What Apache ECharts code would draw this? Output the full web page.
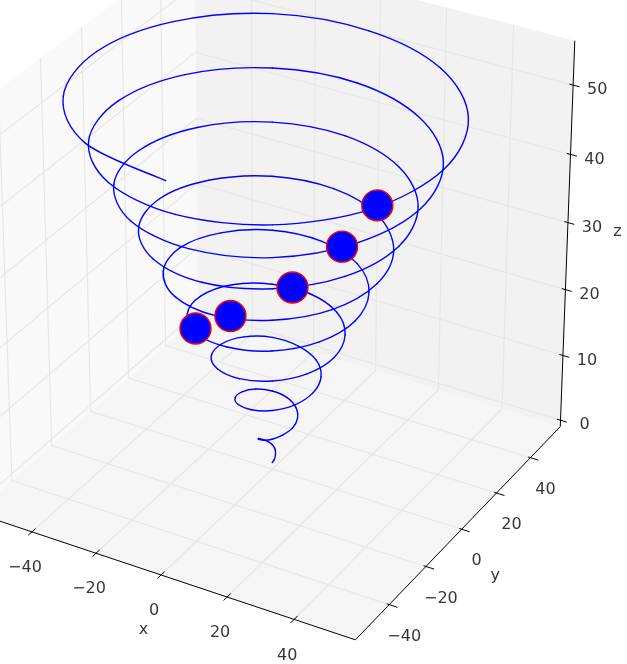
<!DOCTYPE html>
<html>
<head>
<meta charset="utf-8">
<title>3D spiral</title>
<style>
  html, body { margin: 0; padding: 0; background: #fff; }
  #chart { width: 627px; height: 664px; }
</style>
<script src="https://cdn.jsdelivr.net/npm/echarts@6/dist/echarts.min.js"></script>
</head>
<body>
<div id="chart"></div>
<script>
// values
const spiralX = [0, 0.5, 0.5, 0, -1.0, -2.3, -3.1, -3.2, -2.1, 0, 2.6, 5.0,
  6.3, 5.9, 3.7, 0, -4.2, -7.7, -9.4, -8.6, -5.2, 0, 5.8, 10.4,
  12.6, 11.3, 6.8, 0, -7.3, -13.2, -15.7, -14.1, -8.4, 0, 8.9, 15.9,
  18.9, 16.8, 10.0, 0, -10.5, -18.6, -22.0, -19.5, -11.5, 0, 12.0, 21.3,
  25.1, 22.2, 13.1, 0, -13.6, -24.0, -28.3, -24.9, -14.7, 0, 15.2, 26.8,
  31.4, 27.7, 16.2, 0, -16.8, -29.5, -34.6, -30.4, -17.8, 0, 18.3, 32.2,
  37.7, 33.1, 19.4, 0, -19.9, -34.9, -40.8, -35.8, -20.9, 0, 21.5, 37.6,
  44.0, 38.6, 22.5, 0, -23.0, -40.4, -47.1, -41.3, -24.1, 0, 24.6, 43.1,
  50.3, 44.0, 25.7, 0, -26.2, -45.8, -53.4, -46.7, -27.2, 1.2];
const spiralY = [0, 0.3, 0.9, 1.6, 1.8, 1.3, 0, -1.8, -3.6, -4.7, -4.5, -2.9,
  0, 3.4, 6.4, 7.9, 7.3, 4.5, 0, -5.0, -9.1, -11.0, -10.0, -6.0,
  0, 6.6, 11.8, 14.1, 12.7, 7.6, 0, -8.1, -14.5, -17.3, -15.4, -9.2,
  0, 9.7, 17.2, 20.4, 18.1, 10.7, 0, -11.3, -20.0, -23.6, -20.9, -12.3,
  0, 12.8, 22.7, 26.7, 23.6, 13.9, 0, -14.4, -25.4, -29.9, -26.3, -15.5,
  0, 16.0, 28.1, 33.0, 29.0, 17.0, 0, -17.5, -30.8, -36.1, -31.7, -18.6,
  0, 19.1, 33.6, 39.3, 34.5, 20.2, 0, -20.7, -36.3, -42.4, -37.2, -21.7,
  0, 22.3, 39.0, 45.6, 39.9, 23.3, 0, -23.8, -41.7, -48.7, -42.6, -24.9,
  0, 25.4, 44.4, 51.8, 45.4, 26.4, 0, -27.0, -47.2, -55.0];
const spiralZ = [0, 0.5, 1.0, 1.6, 2.1, 2.6, 3.1, 3.7, 4.2, 4.7, 5.2, 5.8,
  6.3, 6.8, 7.3, 7.9, 8.4, 8.9, 9.4, 9.9, 10.5, 11.0, 11.5, 12.0,
  12.6, 13.1, 13.6, 14.1, 14.7, 15.2, 15.7, 16.2, 16.8, 17.3, 17.8, 18.3,
  18.8, 19.4, 19.9, 20.4, 20.9, 21.5, 22.0, 22.5, 23.0, 23.6, 24.1, 24.6,
  25.1, 25.7, 26.2, 26.7, 27.2, 27.7, 28.3, 28.8, 29.3, 29.8, 30.4, 30.9,
  31.4, 31.9, 32.5, 33.0, 33.5, 34.0, 34.6, 35.1, 35.6, 36.1, 36.7, 37.2,
  37.7, 38.2, 38.7, 39.3, 39.8, 40.3, 40.8, 41.4, 41.9, 42.4, 42.9, 43.5,
  44.0, 44.5, 45.0, 45.6, 46.1, 46.6, 47.1, 47.6, 48.2, 48.7, 49.2, 49.7,
  50.3, 50.8, 51.3, 51.8, 52.4, 52.9, 53.4, 53.9, 54.5, 55.0];

const dotX = [44.0, 35.1, 22.7, 4.7, -11.8];
const dotY = [-23.5, -25.5, -29.0, -29.7, -19.9];
const dotZ = [50.0, 43.5, 36.85, 30.35, 23.65];

const xTicks = [-40, -20, 0, 20, 40];
const yTicks = [-40, -20, 0, 20, 40];
const zTicks = [0, 10, 20, 30, 40, 50];

const xLim = [-58, 58];
const yLim = [-58, 58];
const zLim = [-1, 56.3];

// camera, elev 30 azim -60 at distance 10
const elev = 30 * Math.PI / 180;
const azim = -60 * Math.PI / 180;
const dist = 10;
const scaleX = 4390;
const scaleY = 4500;
const centerX = 272.2;
const centerY = 279;

const n = [Math.cos(elev) * Math.cos(azim), Math.cos(elev) * Math.sin(azim), Math.sin(elev)];
const uLen = Math.hypot(n[0], n[1]);
const u = [-n[1] / uLen, n[0] / uLen, 0];
const v = [n[1] * u[2] - n[2] * u[1], n[2] * u[0] - n[0] * u[2], n[0] * u[1] - n[1] * u[0]];

const project = (x, y, z) => {
  const q = [
    (x - xLim[0]) / (xLim[1] - xLim[0]) - 0.5,
    (y - yLim[0]) / (yLim[1] - yLim[0]) - 0.5,
    (z - zLim[0]) / (zLim[1] - zLim[0]) - 0.5,
  ];
  const dot = (a) => a[0] * q[0] + a[1] * q[1] + a[2] * q[2];
  const d = dist - dot(n);
  return [centerX + scaleX * dot(u) / d, centerY - scaleY * dot(v) / d];
};

const [x0, x1] = xLim;
const [y0, y1] = yLim;
const [z0, z1] = zLim;

const panes = [
  { color: '#f9f9f9', pts: [[x0, y0, z0], [x0, y1, z0], [x0, y1, z1], [x0, y0, z1]] },
  { color: '#f2f2f2', pts: [[x0, y1, z0], [x1, y1, z0], [x1, y1, z1], [x0, y1, z1]] },
  { color: '#f5f5f5', pts: [[x0, y0, z0], [x1, y0, z0], [x1, y1, z0], [x0, y1, z0]] },
];

const path = (pts) => ({ coords: pts.map((p) => project(p[0], p[1], p[2])) });

const gridLines = [
  ...xTicks.map((t) => path([[t, y0, z0], [t, y1, z0], [t, y1, z1]])),
  ...yTicks.map((t) => path([[x1, t, z0], [x0, t, z0], [x0, t, z1]])),
  ...zTicks.map((t) => path([[x0, y0, t], [x0, y1, t], [x1, y1, t]])),
];

const axisLines = [
  path([[x0, y0, z0], [x1, y0, z0], [x1, y1, z0], [x1, y1, z1]]),
  ...xTicks.map((t) => path([[t, y0 - 1.8, z0], [t, y0 + 1.8, z0]])),
  ...yTicks.map((t) => path([[x1 - 0.7, t, z0], [x1 + 2.4, t, z0]])),
  ...zTicks.map((t) => path([[x1 - 1.1, y1, t], [x1 + 1.9, y1, t]])),
];

const fmt = (t) => String(t).replace('-', '\u2212');

const tickLabels = [
  ...xTicks.map((t) => ({ name: fmt(t), value: project(t, y0, z0), off: [-7, 36] })),
  ...yTicks.map((t) => ({ name: fmt(t), value: project(x1, t, z0), off: [15, 32] })),
  ...zTicks.map((t) => ({ name: fmt(t), value: project(x1, y1, t), off: [24, 5] })),
  { name: 'x', value: project(0, y0, z0), off: [-17.5, 55] },
  { name: 'y', value: project(x1, 0, z0), off: [33.5, 47] },
  { name: 'z', value: project(x1, y1, 30), off: [49.5, 9] },
];

// one curve per stretch between two read points, bent through the neighbours
const spiralPts = spiralX.map((x, i) => project(x, spiralY[i], spiralZ[i]));
const controlPoints = (i) => {
  const a = spiralPts[Math.max(i - 1, 0)];
  const b = spiralPts[i];
  const c = spiralPts[i + 1];
  const d = spiralPts[Math.min(i + 2, spiralPts.length - 1)];
  return [
    [b[0] + (c[0] - a[0]) / 6, b[1] + (c[1] - a[1]) / 6],
    [c[0] - (d[0] - b[0]) / 6, c[1] - (d[1] - b[1]) / 6],
  ];
};

const chart = echarts.init(document.getElementById('chart'));
const option = {
  animation: false,
  backgroundColor: '#fff',
  grid: { left: 0, right: 0, top: 0, bottom: 0 },
  xAxis: { type: 'value', min: 0, max: 627, show: false },
  yAxis: { type: 'value', min: 0, max: 664, inverse: true, show: false },
  series: [
    {
      type: 'custom',
      z: 1,
      silent: true,
      data: panes.map((p, i) => [i]),
      renderItem: (params, api) => {
        const pane = panes[params.dataIndex];
        return {
          type: 'polygon',
          shape: { points: pane.pts.map((p) => api.coord(project(p[0], p[1], p[2]))) },
          style: { fill: pane.color },
        };
      },
    },
    {
      type: 'lines',
      coordinateSystem: 'cartesian2d',
      polyline: true,
      z: 2,
      silent: true,
      data: gridLines,
      lineStyle: { color: '#e6e6e6', width: 1.2, opacity: 1 },
    },
    {
      type: 'lines',
      coordinateSystem: 'cartesian2d',
      polyline: true,
      z: 3,
      silent: true,
      data: axisLines,
      lineStyle: { color: '#000', width: 1, opacity: 1 },
    },
    {
      type: 'custom',
      z: 4,
      silent: true,
      data: spiralPts.slice(0, -1),
      renderItem: (params, api) => {
        const i = params.dataIndex;
        const [p1, p2] = [api.coord(spiralPts[i]), api.coord(spiralPts[i + 1])];
        const [c1, c2] = controlPoints(i).map((c) => api.coord(c));
        return {
          type: 'bezierCurve',
          shape: { x1: p1[0], y1: p1[1], x2: p2[0], y2: p2[1], cpx1: c1[0], cpy1: c1[1], cpx2: c2[0], cpy2: c2[1] },
          style: { fill: null, stroke: '#0000ff', lineWidth: 1.4, lineCap: 'round' },
        };
      },
    },
    {
      type: 'scatter',
      z: 5,
      silent: true,
      symbolSize: 31,
      data: dotX.map((x, i) => project(x, dotY[i], dotZ[i])),
      itemStyle: { color: '#0000ff', borderColor: '#ff0000', borderWidth: 1.4, opacity: 1 },
    },
    {
      type: 'scatter',
      z: 6,
      silent: true,
      symbolSize: 0,
      data: tickLabels.map((d) => ({
        name: d.name,
        value: d.value,
        label: { offset: d.off },
      })),
      label: {
        show: true,
        position: 'inside',
        formatter: (p) => p.name,
        fontFamily: 'DejaVu Sans',
        fontSize: 16,
        color: '#000',
      },
    },
  ],
};
chart.setOption(option);
</script>
</body>
</html>
